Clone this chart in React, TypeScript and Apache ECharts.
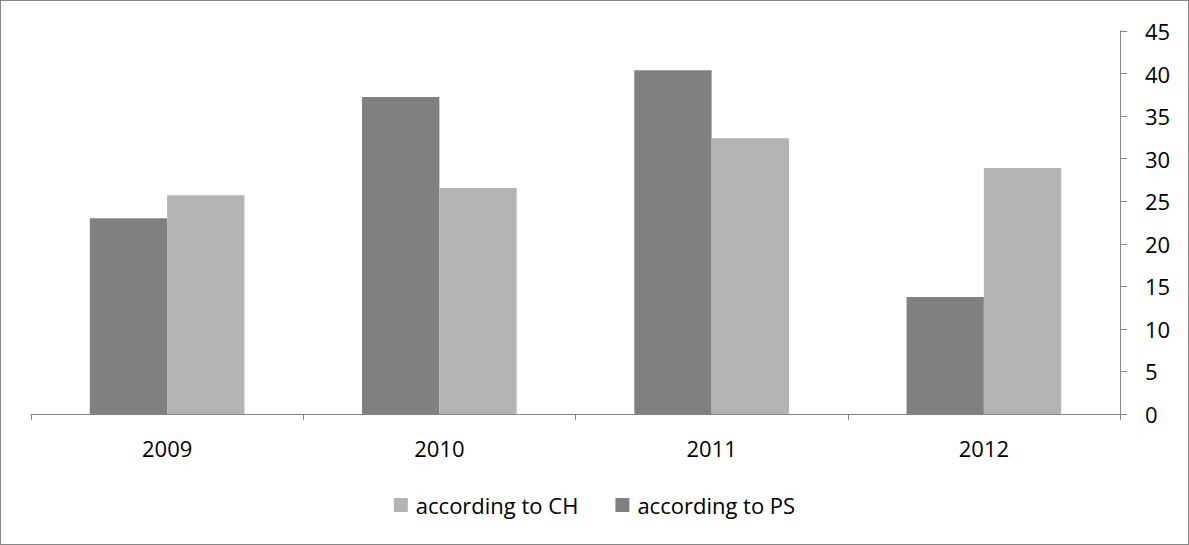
import React, { useEffect, useRef } from "react";
import * as echarts from "echarts";

const categories = ["2009", "2010", "2011", "2012"];
const psValues = [23.0, 37.25, 40.4, 13.75];
const chValues = [25.7, 26.55, 32.4, 28.9];
const yTicks = { min: 0, max: 45, interval: 5 };

export default function App() {
  const ref = useRef<HTMLDivElement>(null);
  useEffect(() => {
    document.body.style.margin = "0";
    const chart = echarts.init(ref.current!, null, { renderer: "svg" });
    const font = "Open Sans, Noto Sans, sans-serif";
    chart.setOption({
      animation: false,
      backgroundColor: "#ffffff",
      grid: { left: 30, right: 68, top: 30, bottom: 130, containLabel: false },
      legend: {
        data: ["according to CH", "according to PS"],
        top: 488,
        left: "center",
        itemWidth: 14,
        itemHeight: 14,
        itemGap: 37,
        icon: "rect",
        textStyle: { fontFamily: font, fontSize: 22, color: "#000", padding: [0, 0, 0, 3] },
      },
      xAxis: {
        type: "category",
        data: categories,
        axisLine: { lineStyle: { color: "#868686", width: 1 } },
        axisTick: { show: true, length: 6, lineStyle: { color: "#868686" } },
        axisLabel: { fontFamily: font, fontSize: 22, color: "#000", margin: 23 },
      },
      yAxis: {
        type: "value",
        position: "right",
        min: yTicks.min,
        max: yTicks.max,
        interval: yTicks.interval,
        splitLine: { show: false },
        axisLine: { show: true, lineStyle: { color: "#868686", width: 1 } },
        axisTick: { show: true, inside: false, length: 7, lineStyle: { color: "#868686" } },
        axisLabel: { fontFamily: font, fontSize: 22, color: "#000", margin: 25 },
      },
      series: [
        {
          name: "according to PS",
          type: "bar",
          data: psValues,
          barWidth: "28.4%",
          barGap: "0%",
          itemStyle: { color: "#808080" },
        },
        {
          name: "according to CH",
          type: "bar",
          data: chValues,
          barWidth: "28.4%",
          barGap: "0%",
          itemStyle: { color: "#b3b3b3" },
        },
      ],
    });
    return () => chart.dispose();
  }, []);
  return (
    <div
      style={{
        position: "absolute",
        left: 0,
        top: 0,
        width: 1189,
        height: 545,
        boxSizing: "border-box",
        border: "1px solid #868686",
        background: "#fff",
      }}
    >
      <div ref={ref} style={{ width: 1187, height: 543 }} />
    </div>
  );
}
